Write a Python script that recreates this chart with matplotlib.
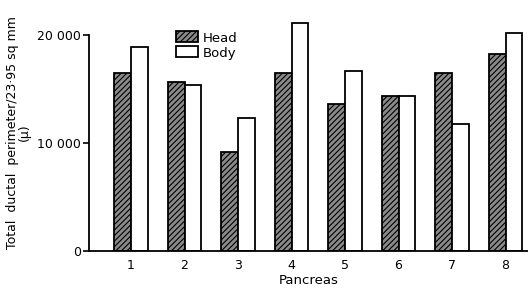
import numpy as np
import matplotlib.pyplot as plt

# Values
pancreas = ['1', '2', '3', '4', '5', '6', '7', '8']
head = [16500, 15700, 9200, 16500, 13600, 14400, 16500, 18300]
body = [18900, 15400, 12300, 21100, 16700, 14400, 11800, 20200]

plt.rcParams['hatch.linewidth'] = 0.8
plt.rcParams['font.family'] = 'DejaVu Sans'

fig = plt.figure(figsize=(5.28, 2.93), dpi=100)
ax = fig.add_axes([0.1686, 0.1433, 0.8314, 0.81])

x = np.arange(1, len(pancreas) + 1)
w = 0.31
ax.bar(x - w / 2, head, width=w, facecolor='#8a8a8a', edgecolor='black',
       hatch='//////', linewidth=1.3, label='Head')
ax.bar(x + w / 2, body, width=w, facecolor='white', edgecolor='black',
       linewidth=1.3, label='Body')

ax.set_xlim(0.215, 8.42)
ax.set_ylim(0, 22000)
ax.set_xticks(x)
ax.set_xticklabels(pancreas, fontsize=9)
ax.tick_params(axis='x', length=0, pad=6)
ax.set_yticks([0, 10000, 20000])
ax.set_yticklabels(['0', '10 000', '20 000'], fontsize=9)
ax.tick_params(axis='y', length=4, width=1.2, pad=2)

for s in ['top', 'right']:
    ax.spines[s].set_visible(False)
ax.spines['left'].set_bounds(0, 20000)
ax.spines['left'].set_linewidth(1.3)
ax.spines['bottom'].set_linewidth(1.3)

ax.set_xlabel('Pancreas', fontsize=9.5, labelpad=1)
ax.set_ylabel('Total  ductal  perimeter/23·95 sq mm\n(µ)', fontsize=9,
              linespacing=0.9, labelpad=4)

ax.legend(loc='upper left', bbox_to_anchor=(0.172, 0.975), frameon=False,
          fontsize=9.5, handlelength=1.6, handleheight=0.9,
          handletextpad=0.4, labelspacing=0.15)

fig.savefig('out.png', dpi=100)
